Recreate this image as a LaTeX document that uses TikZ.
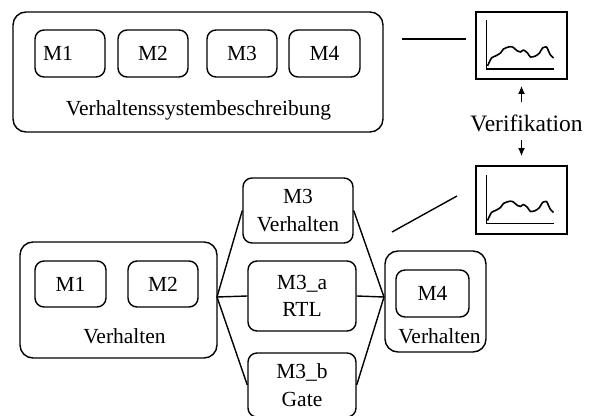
\documentclass[tikz,border=0pt]{standalone}
\usepackage{fontspec}
\setmainfont{Liberation Serif}
\usetikzlibrary{arrows.meta,calc}

% small waveform inside a framed chart node
\newcommand\waveform[1]{%
  \begin{scope}[shift={(#1.center)}]
    \draw[axisline] (-35,-25.5) -- (-35,23.5) -- (32,23.5);
    \draw[axisline, line join=round] plot[smooth, tension=0.45] coordinates {
      (-34,20.5) (-30,12.5) (-26,10.5) (-21,7.5) (-18,3.5) (-13,1.5) (-9,1.5)
      (-4,5.5) (-1,6.5) (2,4.5) (6,7.5) (9,11.5) (14,10.5) (18,7.5) (21,2.5)
      (25,1.5) (27,5.5) (29,9.5) (32,12.5)};
  \end{scope}}

\begin{document}
\begin{tikzpicture}[x=1pt,y=-1pt,
  every node/.style={font=\fontsize{21.5}{27.5}\selectfont, inner sep=0pt, align=center},
  box/.style={draw, rounded corners=9pt, line width=1.4pt},
  bigbox/.style={draw, rounded corners=13pt, line width=1.4pt},
  chart/.style={draw, line width=1.8pt, minimum width=91pt, minimum height=67pt},
  axisline/.style={line width=1.6pt},
  wire/.style={line width=1.4pt},
  vtip/.style={-{Latex[length=8pt,width=7pt]}, line width=1.4pt}]

\useasboundingbox (0,0) rectangle (597,415);
\clip (0,0) rectangle (597,415);

% ---- system description (top) ----
\node[bigbox, minimum width=370pt, minimum height=120pt] (sys) at (198,72) {};
\node[box, minimum width=70pt, minimum height=47pt] (tm1) at (70,53.5) {M1\hspace{24pt}};
\node[box, minimum width=70pt, minimum height=47pt] (tm2) at (153,53.5) {M2};
\node[box, minimum width=70pt, minimum height=47pt] (tm3) at (242,53.5) {M3};
\node[box, minimum width=71pt, minimum height=47pt] (tm4) at (324.5,53.5) {M4};
\node[anchor=base] (systxt) at (198.5,115) {Verhaltenssystembeschreibung};

% ---- charts and verification ----
\node[chart] (c1) at (521.5,45.5) {};
\node[chart, minimum height=68pt] (c2) at (521.5,200) {};
\waveform{c1}
\waveform{c2}
\node[anchor=base, font=\fontsize{23.5}{28}\selectfont] (verif) at (526.5,131) {Verifikation};
\draw[vtip, shorten <=12pt, shorten >=6pt] (verif.north -| c1.south) -- (c1.south);
\draw[vtip, shorten <=9pt, shorten >=9pt] (verif.base -| c2.north) -- (c2.north);

\coordinate (ta) at (402,39);
\coordinate (tb) at (466,39);
\draw[wire] (ta) -- (tb);
\coordinate (da) at (392,232);
\coordinate (db) at (457,196);
\draw[wire] (da) -- (db);

% ---- refined model (bottom) ----
\node[bigbox, minimum width=197pt, minimum height=116pt] (beh) at (118.5,300) {};
\node[box, minimum width=71pt, minimum height=46pt] (bm1) at (70.5,284) {M1};
\node[box, minimum width=70pt, minimum height=46pt] (bm2) at (163,284) {M2};
\node[anchor=base] (behtxt) at (124.5,343) {Verhalten};

\node[box, minimum width=110pt, minimum height=65pt] (m3v) at (298,210.5) {M3\\Verhalten};
\node[box, minimum width=108pt, minimum height=70pt] (m3a) at (302,296) {M3\_a\\RTL};
\node[box, minimum width=108pt, minimum height=64pt] (m3b) at (302,385) {M3\_b\\Gate};

\node[bigbox, minimum width=101pt, minimum height=101pt] (m4o) at (435.5,301.5) {};
\node[box, minimum width=73pt, minimum height=47pt] (m4) at (432.5,293.5) {M4};
\node[anchor=base] (m4txt) at (439.5,343) {Verhalten};

\coordinate (jl) at (217,297);
\coordinate (jr) at (384,297);
\draw[wire] (jl) -- (m3v.west);
\draw[wire] (jl) -- (m3a.west);
\draw[wire] (jl) -- (m3b.west);
\draw[wire] (m3v.east) -- (jr);
\draw[wire] (m3a.east) -- (jr);
\draw[wire] (m3b.east) -- (jr);
\end{tikzpicture}
\end{document}
